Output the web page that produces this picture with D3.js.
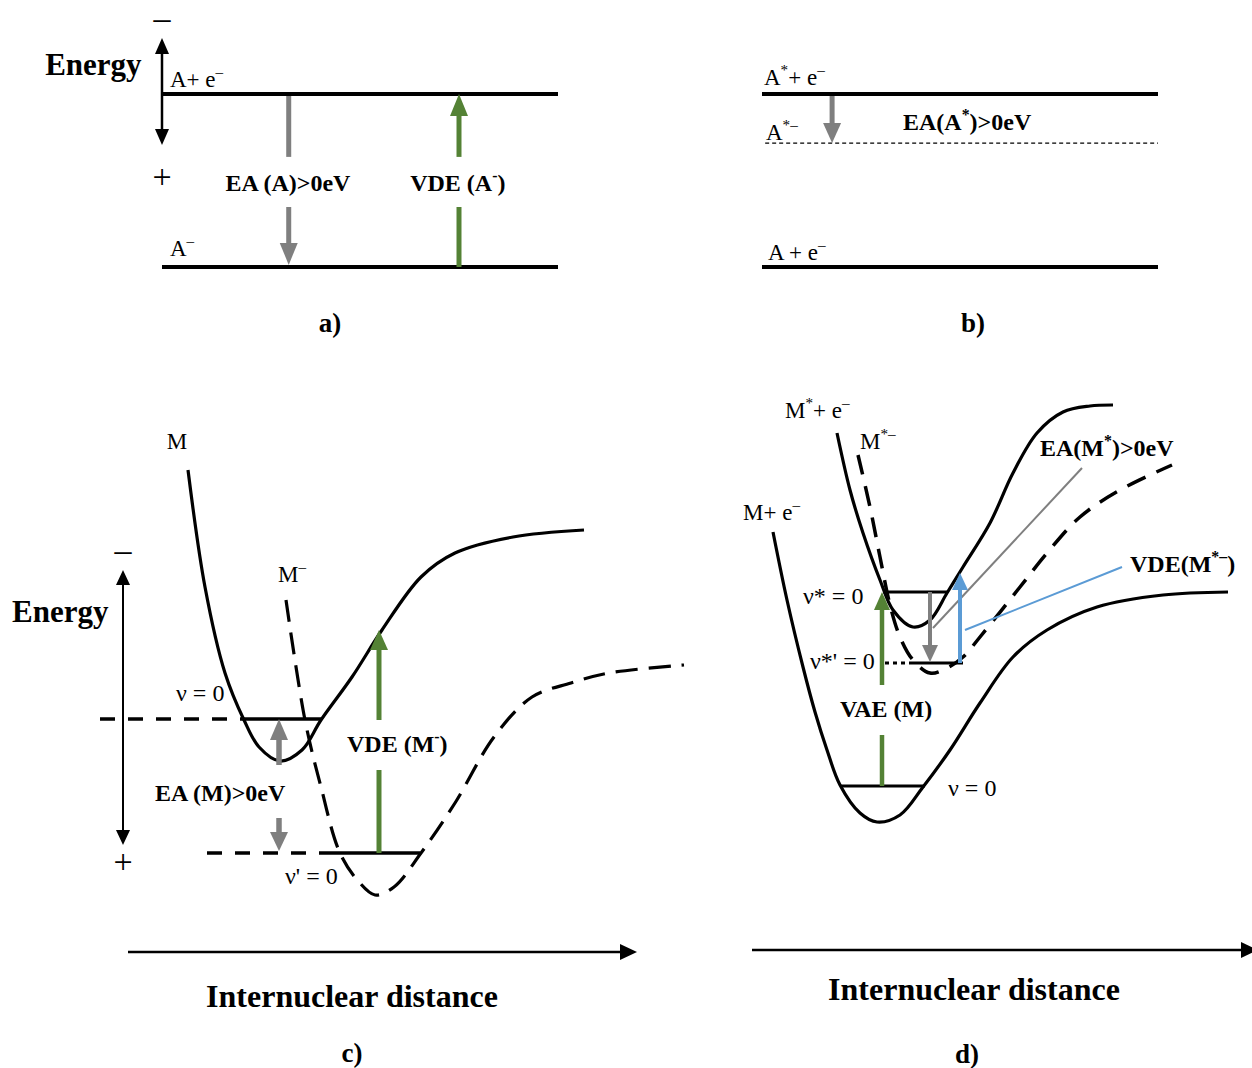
<!DOCTYPE html>
<html lang="en">
<head>
<meta charset="UTF-8">
<title>Electron affinity diagrams</title>
<script src="https://d3js.org/d3.v7.min.js"></script>
<style>
  body { margin: 0; background: #fff; }
  text { font-family: "Liberation Serif", "Times New Roman", serif; fill: #000; }
</style>
</head>
<body>
<svg width="1252" height="1068"></svg>
<script>
  // ---- data (arbitrary units: x = internuclear distance, y = energy) ----
  // panels a / b : energy levels
  const levelsA = [6.87, 1.1];
  const levelsB = [6.87, 1.1];
  const levelB_anion = 5.23;

  // panel c : potential curves
  const curveM = [[1.2, 8.6], [1.54, 6.26], [1.94, 4.54], [2.32, 3.6], [2.62, 3.06], [3.04, 2.78],
    [3.48, 3.0], [3.86, 3.6], [4.48, 4.46], [5.08, 5.4], [5.86, 6.46], [6.54, 6.94], [7.7, 7.26], [9.12, 7.4]];
  const curveMminus = [[3.16, 6.0], [3.54, 3.6], [3.86, 2.26], [4.24, 0.94], [4.62, 0.36], [4.94, 0.1],
    [5.32, 0.26], [5.86, 0.94], [6.54, 1.94], [7.32, 3.26], [8.08, 4.06], [8.86, 4.34], [9.62, 4.54], [11.12, 4.7]];
  const levelC_v0 = { e: 3.62, dashFrom: -0.56, from: 2.32, to: 3.88 };
  const levelC_v1 = { e: 0.94, dashFrom: 1.58, from: 4.0, to: 5.84 };

  // panel d : potential curves
  const curveMe = [[0.42, 6.36], [0.7, 5.0], [1.02, 3.66], [1.26, 2.76], [1.5, 2.0], [1.76, 1.3], [2.16, 0.74],
    [2.5, 0.56], [2.96, 0.7], [3.42, 1.26], [3.96, 2.0], [4.56, 2.94], [5.22, 3.86], [5.9, 4.4], [6.9, 4.86],
    [8.22, 5.1], [9.52, 5.16]];
  const curveMstar = [[1.7, 8.34], [1.96, 7.2], [2.22, 6.34], [2.56, 5.4], [2.82, 4.8], [3.22, 4.46], [3.56, 4.6],
    [3.9, 5.14], [4.22, 5.66], [4.76, 6.54], [5.22, 7.54], [5.7, 8.34], [6.22, 8.76], [6.76, 8.88], [7.22, 8.9]];
  const curveMstarMinus = [[2.12, 7.9], [2.36, 6.86], [2.56, 5.86], [2.76, 4.9], [2.96, 4.26], [3.22, 3.8], [3.56, 3.54],
    [3.9, 3.64], [4.22, 3.86], [4.56, 4.26], [5.36, 5.26], [5.9, 5.94], [6.56, 6.66], [7.36, 7.2], [8.4, 7.7]];
  const levelD_vs = { e: 5.16, from: 2.62, to: 3.92 };
  const levelD_vs1 = { e: 3.74, dotFrom: 2.66, from: 3.2, to: 4.22 };
  const levelD_v0 = { e: 1.28, from: 1.76, to: 3.46 };

  const gray = "#7f7f7f", green = "#548235", blue = "#5b9bd5";
  const fsReg = 23, fsNu = 24, fsBold = 24, fsBig = 32, fsTag = 27, fsSign = 34;

  const svg = d3.select("svg");

  // scales per panel
  const xA = d3.scaleLinear().domain([0, 10]).range([162, 558]);
  const xB = d3.scaleLinear().domain([0, 10]).range([762, 1158]);
  const yTop = d3.scaleLinear().domain([0, 10]).range([300, 0]);
  const xC = d3.scaleLinear().domain([0, 10]).range([128, 628]);
  const yC = d3.scaleLinear().domain([0, 10]).range([900, 400]);
  const xD = d3.scaleLinear().domain([0, 10]).range([752, 1252]);
  const yD = d3.scaleLinear().domain([0, 10]).range([850, 350]);

  // helpers
  function seg(g, x1, y1, x2, y2, color, w, dash) {
    const l = g.append("line").attr("x1", x1).attr("y1", y1).attr("x2", x2).attr("y2", y2)
      .attr("stroke", color).attr("stroke-width", w);
    if (dash) l.attr("stroke-dasharray", dash);
    return l;
  }
  function head(g, x1, y1, x2, y2, color, len, hw) {
    const L = Math.hypot(x2 - x1, y2 - y1), ux = (x2 - x1) / L, uy = (y2 - y1) / L;
    const bx = x2 - ux * len, by = y2 - uy * len;
    g.append("path")
      .attr("d", `M${x2},${y2}L${bx - uy * hw},${by + ux * hw}L${bx + uy * hw},${by - ux * hw}Z`)
      .attr("fill", color);
    return [bx + ux, by + uy];
  }
  function arrow(g, x1, y1, x2, y2, color, w, len, hw) {
    const b = head(g, x1, y1, x2, y2, color, len, hw);
    seg(g, x1, y1, b[0], b[1], color, w);
  }
  function dblArrow(g, x1, y1, x2, y2, color, w, len, hw) {
    const b1 = head(g, x2, y2, x1, y1, color, len, hw);
    const b2 = head(g, x1, y1, x2, y2, color, len, hw);
    seg(g, b1[0], b1[1], b2[0], b2[1], color, w);
  }
  // text with superscripts: parts = [[text, isSup], ...]
  function rich(g, x, y, parts, size, bold, anchor) {
    const t = g.append("text").attr("x", x).attr("y", y)
      .attr("font-size", size).attr("font-weight", bold ? "bold" : "normal")
      .attr("text-anchor", anchor || "start");
    let up = false;
    parts.forEach(([s, sup]) => {
      const ts = t.append("tspan").text(s);
      if (sup && !up) { ts.attr("dy", -0.42 * size).attr("font-size", size * 0.66); up = true; }
      else if (sup) { ts.attr("font-size", size * 0.66); }
      else if (up) { ts.attr("dy", 0.42 * size); up = false; }
    });
    return t;
  }
  function curve(g, pts, x, y, w, dash) {
    const line = d3.line().x(d => x(d[0])).y(d => y(d[1])).curve(d3.curveCatmullRom.alpha(0.5));
    const p = g.append("path").attr("d", line(pts)).attr("fill", "none")
      .attr("stroke", "#000").attr("stroke-width", w).attr("stroke-linecap", "butt");
    if (dash) p.attr("stroke-dasharray", dash);
  }

  // ---------- panel a ----------
  const ga = svg.append("g");
  levelsA.forEach(e => seg(ga, xA(0), yTop(e), xA(10), yTop(e), "#000", 4));
  dblArrow(ga, xA(0), yTop(8.73), xA(0), yTop(5.17), "#000", 2.5, 16, 7);
  rich(ga, xA(0), yTop(9.02), [["\u2013"]], fsSign, false, "middle");
  rich(ga, xA(0), yTop(3.72), [["+"]], fsSign, false, "middle");
  rich(ga, xA(-2.95), yTop(7.5), [["Energy"]], 31, true);
  rich(ga, xA(0.2), yTop(7.1), [["A+ e"], ["\u2013", true]], fsReg);
  rich(ga, xA(0.2), yTop(1.47), [["A"], ["\u2013", true]], fsReg);
  // EA arrow (gray, down)
  seg(ga, xA(3.2), yTop(6.8), xA(3.2), yTop(4.77), gray, 5);
  arrow(ga, xA(3.2), yTop(3.1), xA(3.2), yTop(1.17), gray, 5, 22, 9);
  // VDE arrow (green, up)
  seg(ga, xA(7.5), yTop(1.1), xA(7.5), yTop(3.1), green, 5);
  arrow(ga, xA(7.5), yTop(4.77), xA(7.5), yTop(6.87), green, 5, 22, 9);
  rich(ga, xA(3.18), yTop(3.63), [["EA (A)>0eV"]], fsBold, true, "middle");
  rich(ga, xA(7.47), yTop(3.63), [["VDE (A"], ["-", true], [")"]], fsBold, true, "middle");
  rich(ga, xA(4.24), yTop(-1.07), [["a)"]], fsTag, true, "middle");

  // ---------- panel b ----------
  const gb = svg.append("g");
  levelsB.forEach(e => seg(gb, xB(0), yTop(e), xB(10), yTop(e), "#000", 4));
  seg(gb, xB(0.08), yTop(levelB_anion), xB(10), yTop(levelB_anion), "#000", 1.2, "4,3");
  arrow(gb, xB(1.77), yTop(6.8), xB(1.77), yTop(levelB_anion), gray, 5, 20, 9);
  rich(gb, xB(0.05), yTop(7.17), [["A"], ["*", true], ["+ e"], ["\u2013", true]], fsReg);
  rich(gb, xB(0.1), yTop(5.33), [["A"], ["*\u2013", true]], fsReg);
  rich(gb, xB(3.56), yTop(5.67), [["EA(A"], ["*", true], [")>0eV"]], fsBold, true);
  rich(gb, xB(0.15), yTop(1.33), [["A + e"], ["\u2013", true]], fsReg);
  rich(gb, xB(5.33), yTop(-1.07), [["b)"]], fsTag, true, "middle");

  // ---------- panel c ----------
  const gc = svg.append("g");
  curve(gc, curveM, xC, yC, 3.2);
  curve(gc, curveMminus, xC, yC, 3.2, "22,11");
  [levelC_v0, levelC_v1].forEach(l => {
    seg(gc, xC(l.dashFrom), yC(l.e), xC(l.from), yC(l.e), "#000", 3.5, "15,13");
    seg(gc, xC(l.from), yC(l.e), xC(l.to), yC(l.e), "#000", 3.5);
  });
  dblArrow(gc, xC(-0.1), yC(6.6), xC(-0.1), yC(1.1), "#000", 2, 15, 7);
  rich(gc, xC(-0.1), yC(6.78), [["\u2013"]], fsSign, false, "middle");
  rich(gc, xC(-0.1), yC(0.54), [["+"]], fsSign, false, "middle");
  rich(gc, xC(-2.32), yC(5.56), [["Energy"]], 31, true);
  rich(gc, xC(0.98), yC(9.02), [["M"]], fsReg, false, "middle");
  rich(gc, xC(3.0), yC(6.36), [["M"], ["\u2013", true]], fsReg);
  rich(gc, xC(0.96), yC(3.98), [["\u03bd = 0"]], fsNu);
  rich(gc, xC(3.14), yC(0.32), [["\u03bd' = 0"]], fsNu);
  // EA arrows
  arrow(gc, xC(3.02), yC(2.7), xC(3.02), yC(3.62), gray, 5.5, 21, 9);
  arrow(gc, xC(3.02), yC(1.64), xC(3.02), yC(0.98), gray, 5.5, 19, 9);
  rich(gc, xC(0.54), yC(1.98), [["EA (M)>0eV"]], fsBold, true);
  // VDE arrow
  seg(gc, xC(5.02), yC(0.94), xC(5.02), yC(2.6), green, 5);
  arrow(gc, xC(5.02), yC(3.6), xC(5.02), yC(5.4), green, 5, 20, 9);
  rich(gc, xC(4.38), yC(2.96), [["VDE (M"], ["-", true], [")"]], fsBold, true);
  arrow(gc, xC(0), yC(-1.04), xC(10.18), yC(-1.04), "#000", 2.5, 17, 8);
  rich(gc, xC(4.48), yC(-2.14), [["Internuclear distance"]], fsBig, true, "middle");
  rich(gc, xC(4.48), yC(-3.24), [["c)"]], fsTag, true, "middle");

  // ---------- panel d ----------
  const gd = svg.append("g");
  curve(gd, curveMe, xD, yD, 3.2);
  curve(gd, curveMstar, xD, yD, 3.2);
  curve(gd, curveMstarMinus, xD, yD, 3.5, "20,12");
  seg(gd, xD(levelD_vs.from), yD(levelD_vs.e), xD(levelD_vs.to), yD(levelD_vs.e), "#000", 3.2);
  seg(gd, xD(levelD_vs1.dotFrom), yD(levelD_vs1.e), xD(levelD_vs1.from), yD(levelD_vs1.e), "#000", 3.2, "4,4");
  seg(gd, xD(levelD_vs1.from), yD(levelD_vs1.e), xD(levelD_vs1.to), yD(levelD_vs1.e), "#000", 3.2);
  seg(gd, xD(levelD_v0.from), yD(levelD_v0.e), xD(levelD_v0.to), yD(levelD_v0.e), "#000", 3.2);
  // VAE arrow
  seg(gd, xD(2.6), yD(1.28), xD(2.6), yD(2.3), green, 4.5);
  arrow(gd, xD(2.6), yD(3.3), xD(2.6), yD(5.16), green, 4.5, 18, 8);
  // EA(M*) arrow + leader
  arrow(gd, xD(3.56), yD(5.16), xD(3.56), yD(3.76), gray, 4, 17, 8);
  seg(gd, xD(3.62), yD(4.44), xD(6.6), yD(7.64), gray, 2);
  // VDE(M*-) arrow + leader
  arrow(gd, xD(4.16), yD(3.74), xD(4.16), yD(5.54), blue, 4, 17, 8);
  seg(gd, xD(4.26), yD(4.4), xD(7.4), yD(5.66), blue, 2);
  rich(gd, xD(0.66), yD(8.64), [["M"], ["*", true], ["+ e"], ["\u2013", true]], fsReg);
  rich(gd, xD(2.16), yD(8.02), [["M"], ["*\u2013", true]], fsReg);
  rich(gd, xD(-0.18), yD(6.6), [["M+ e"], ["\u2013", true]], fsReg);
  rich(gd, xD(1.02), yD(4.92), [["\u03bd* = 0"]], fsNu);
  rich(gd, xD(1.16), yD(3.62), [["\u03bd*' = 0"]], fsNu);
  rich(gd, xD(3.92), yD(1.08), [["\u03bd = 0"]], fsNu);
  rich(gd, xD(1.76), yD(2.66), [["VAE (M)"]], fsBold, true);
  rich(gd, xD(5.76), yD(7.88), [["EA(M"], ["*", true], [")>0eV"]], fsBold, true);
  rich(gd, xD(7.56), yD(5.56), [["VDE(M"], ["*\u2013", true], [")"]], fsBold, true);
  arrow(gd, xD(0), yD(-2), xD(10.12), yD(-2), "#000", 2.5, 17, 8);
  rich(gd, xD(4.44), yD(-3.0), [["Internuclear distance"]], fsBig, true, "middle");
  rich(gd, xD(4.3), yD(-4.26), [["d)"]], fsTag, true, "middle");
</script>
</body>
</html>
